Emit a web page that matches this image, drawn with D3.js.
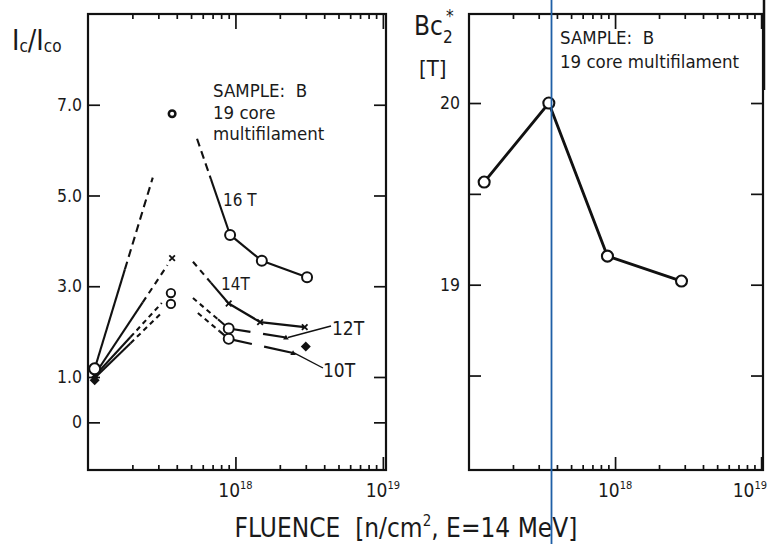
<!DOCTYPE html>
<html><head><meta charset="utf-8">
<script src="https://cdn.jsdelivr.net/npm/d3@7"></script>
<style>
body{margin:0;background:#fff;}
svg{display:block;}
text{font-family:"DejaVu Sans Condensed","Liberation Sans Narrow","DejaVu Sans",sans-serif;fill:#1a1a1a;}
</style></head><body>
<svg id="c" width="768" height="544"></svg>
<script>
// ---------------- data ----------------
const seriesNames = ["16 T", "14T", "12T", "10T"];
const fluence16 = [1.11e17, 3.72e17, 9.2e17, 1.51e18, 3.06e18];
const ratio16   = [1.18, 6.80, 4.13, 3.56, 3.20];
const fluence14 = [1.11e17, 3.72e17, 9.0e17, 1.47e18, 2.95e18];
const ratio14   = [1.05, 3.62, 2.62, 2.21, 2.10];
const fluence12 = [1.11e17, 3.65e17, 9.0e17, 2.2e18];
const ratio12   = [1.02, 2.85, 2.07, 1.87];
const fluence10 = [1.11e17, 3.65e17, 9.0e17, 2.46e18];
const ratio10   = [0.98, 2.61, 1.84, 1.53];
const fluenceFilled = [1.11e17, 3.0e18];
const ratioFilled   = [0.93, 1.67];
// start of the dashed extrapolations after the peak (16T, 14T, 12T, 10T)
const extrapFluence = [5.49e17, 5.15e17, 5.15e17, 5.56e17];
const extrapRatio   = [6.25, 3.54, 2.74, 2.41];
// right panel
const bcFluence = [1.27e17, 3.52e17, 8.87e17, 2.85e18];
const bc2Values = [19.565, 20.0, 19.157, 19.02];
// ticks
const ratioTicks = [0, 1, 3, 5, 7];
const ratioTickLabels = ["0", "1.0", "3.0", "5.0", "7.0"];
const bcTicks = [18.5, 19, 19.5, 20];
const bcTickLabels = ["", "19", "", "20"];
const majorFluence = [1e18, 1e19];
const minorFluence = [2e17,3e17,4e17,5e17,6e17,7e17,8e17,9e17,2e18,3e18,4e18,5e18,6e18,7e18,8e18,9e18];
const decadeExp = ["18", "19"];

// ---------------- setup ----------------
const svg = d3.select("#c");
const INK = "#111";
const W = 768;
const L = {x0: 88, x1: 386, y0: 14, y1: 470};
const R = {x0: 469, x1: 763, y0: 14, y1: 470};

const xL = d3.scaleLog().domain([1e17, 1.05e19]).range([L.x0, L.x1]);
const yL = d3.scaleLinear().domain([-1.05, 9.0]).range([L.y1, L.y0]);
const xR = d3.scaleLog().domain([1e17, 1.03e19]).range([R.x0, R.x1]);
const yR = d3.scaleLinear().domain([17.98, 20.49]).range([R.y1, R.y0]);

function frame(P, x, y, yTickVals, yLabels, tickLen, labelPad) {
  const g = svg.append("g");
  g.append("rect").attr("x", P.x0).attr("y", P.y0).attr("width", P.x1 - P.x0).attr("height", P.y1 - P.y0)
    .attr("fill", "none").attr("stroke", INK).attr("stroke-width", 2.2);
  const clean = s => { s.select(".domain").remove(); s.selectAll("line").attr("stroke", INK).attr("stroke-width", 1.7); };
  g.append("g").attr("transform", `translate(0,${P.y1})`)
    .call(d3.axisBottom(x).tickValues(minorFluence).tickSize(-5).tickFormat("")).call(clean);
  g.append("g").attr("transform", `translate(0,${P.y1})`)
    .call(d3.axisBottom(x).tickValues(majorFluence).tickSize(-13).tickFormat("")).call(clean);
  g.append("g").attr("transform", `translate(0,${P.y0})`)
    .call(d3.axisTop(x).tickValues(minorFluence).tickSize(-5).tickFormat("")).call(clean);
  g.append("g").attr("transform", `translate(0,${P.y0})`)
    .call(d3.axisTop(x).tickValues(majorFluence).tickSize(-15).tickFormat("")).call(clean);
  const ya = g.append("g").attr("transform", `translate(${P.x0},0)`)
    .call(d3.axisLeft(y).tickValues(yTickVals).tickSize(-tickLen).tickPadding(labelPad)
      .tickFormat((d, i) => yLabels[i])).call(clean);
  ya.selectAll("text").attr("font-size", 17.5).attr("fill", "#1a1a1a")
    .style("font-family", '"DejaVu Sans Condensed","Liberation Sans Narrow",sans-serif');
  g.append("g").attr("transform", `translate(${P.x1},0)`)
    .call(d3.axisRight(y).tickValues(yTickVals).tickSize(-tickLen).tickFormat("")).call(clean);
  majorFluence.forEach((f, i) => {
    let xx = x(f), anchor = "middle";
    if (xx + 15 > W) { xx = W - 1; anchor = "end"; }
    const t = g.append("text").attr("x", xx).attr("y", P.y1 + 27).attr("text-anchor", anchor).attr("font-size", 19);
    t.append("tspan").text("10");
    t.append("tspan").attr("font-size", 11).attr("dy", -8).text(decadeExp[i]);
  });
}
frame(L, xL, yL, ratioTicks, ratioTickLabels, 12, 6);
frame(R, xR, yR, bcTicks, bcTickLabels, 12, 9);

// ---------------- left panel lines ----------------
function pt(x, y, f, v) { return [x(f), y(v)]; }
function seg(p0, p1, t0, t1, dash, w) {
  const a = [p0[0] + (p1[0] - p0[0]) * t0, p0[1] + (p1[1] - p0[1]) * t0];
  const b = [p0[0] + (p1[0] - p0[0]) * t1, p0[1] + (p1[1] - p0[1]) * t1];
  svg.append("line").attr("x1", a[0]).attr("y1", a[1]).attr("x2", b[0]).attr("y2", b[1])
    .attr("stroke", INK).attr("stroke-width", w || 2.1).attr("stroke-dasharray", dash || null)
    .attr("stroke-linecap", "butt");
}
const S = [
  {f: fluence16, v: ratio16, pre: [0.39, 0.75], dash: "8,5", post: 0.42, gap: null},
  {f: fluence14, v: ratio14, pre: [0.62, 0.94], dash: "6,5", post: 0.5, gap: null},
  {f: fluence12, v: ratio12, pre: [0.47, 0.88], dash: "5,4", post: 0.7, gap: [0.38, 0.6]},
  {f: fluence10, v: ratio10, pre: [0.47, 0.88], dash: "5,4", post: 0.7, gap: [0.36, 0.55]}
];
S.forEach((s, k) => {
  const P = s.f.map((f, i) => pt(xL, yL, f, s.v[i]));
  seg(P[0], P[1], 0, s.pre[0], null, 2.1);
  seg(P[0], P[1], s.pre[0], s.pre[1], s.dash, 2.1);
  const E = pt(xL, yL, extrapFluence[k], extrapRatio[k]);
  seg(E, P[2], 0, s.post, s.dash, 2.1);
  seg(E, P[2], s.post, 1, null, 2.1);
  for (let i = 2; i < P.length - 1; i++) {
    if (s.gap && i === P.length - 2) {
      seg(P[i], P[i + 1], 0, s.gap[0], null, 2.1);
      seg(P[i], P[i + 1], s.gap[1], 1, null, 2.1);
    } else seg(P[i], P[i + 1], 0, 1, null, 2.2);
  }
});

// markers
function circle(x, y, r, sw) {
  svg.append("circle").attr("cx", x).attr("cy", y).attr("r", r).attr("fill", "#fff")
    .attr("stroke", INK).attr("stroke-width", sw);
}
function cross(x, y, h) {
  svg.append("path").attr("d", `M${x - h},${y - h}L${x + h},${y + h}M${x - h},${y + h}L${x + h},${y - h}`)
    .attr("stroke", INK).attr("stroke-width", 1.8).attr("fill", "none");
}
function diamond(x, y, h) {
  svg.append("path").attr("d", `M${x},${y - h}L${x + h},${y}L${x},${y + h}L${x - h},${y}Z`).attr("fill", INK);
}
function tri(x, y, h) {
  svg.append("path").attr("d", `M${x},${y - h}L${x + h},${y + h * 0.7}L${x - h},${y + h * 0.7}Z`).attr("fill", INK);
}
fluence14.forEach((f, i) => cross(xL(f), yL(ratio14[i]), 2.8));
[[fluence12, ratio12], [fluence10, ratio10]].forEach(([F, V]) => {
  F.forEach((f, i) => {
    if (i === 0) return;
    if (i === F.length - 1) tri(xL(f), yL(V[i]), 2.8);
    else circle(xL(f), yL(V[i]), i === 1 ? 4.2 : 5, 1.9);
  });
});
fluenceFilled.forEach((f, i) => diamond(xL(f), yL(ratioFilled[i]), 5));
fluence16.forEach((f, i) => {
  if (i === 1) circle(xL(f), yL(ratio16[i]), 3.3, 2.5);
  else circle(xL(f), yL(ratio16[i]), i === 0 ? 5.5 : 5, 2);
});

// series labels
function label(txt, x, y, fs) {
  svg.append("text").attr("x", x).attr("y", y).attr("font-size", fs || 17).text(txt);
}
label(seriesNames[0], 223, 206);
label(seriesNames[1], 221, 290);
label(seriesNames[2], 332, 335, 19);
label(seriesNames[3], 323, 377, 19);
svg.append("line").attr("x1", 331).attr("y1", 326).attr("x2", xL(fluence12[3]) + 2).attr("y2", yL(ratio12[3]))
  .attr("stroke", INK).attr("stroke-width", 1.4);
svg.append("line").attr("x1", 323).attr("y1", 368).attr("x2", xL(fluence10[3]) + 1).attr("y2", yL(ratio10[3]))
  .attr("stroke", INK).attr("stroke-width", 1.4);

// sample annotations
const a1 = svg.append("text").attr("font-size", 18.5);
a1.append("tspan").attr("x", 213).attr("y", 97).text("SAMPLE:  B").style("white-space", "pre");
a1.append("tspan").attr("x", 213).attr("y", 119).text("19 core");
a1.append("tspan").attr("x", 213).attr("y", 140).text("multifilament");

// y-axis title left
const yt = svg.append("text").attr("x", 12).attr("y", 50).attr("font-size", 28);
yt.append("tspan").text("I");
yt.append("tspan").attr("font-size", 17).attr("dy", 2).text("c");
yt.append("tspan").attr("font-size", 28).attr("dy", -2).text("/I");
yt.append("tspan").attr("font-size", 17).attr("dy", 2).text("co");

// ---------------- right panel ----------------
const line = d3.line().x(d => xR(d[0])).y(d => yR(d[1]));
svg.append("path").datum(bcFluence.map((f, i) => [f, bc2Values[i]])).attr("d", line)
  .attr("fill", "none").attr("stroke", INK).attr("stroke-width", 2.9);
bcFluence.forEach((f, i) => circle(xR(f), yR(bc2Values[i]), 5.5, 2.1));

const b1 = svg.append("text").attr("font-size", 18.5);
b1.append("tspan").attr("x", 560).attr("y", 44).text("SAMPLE:  B").style("white-space", "pre");
b1.append("tspan").attr("x", 560).attr("y", 68).text("19 core multifilament");

const bt = svg.append("text").attr("x", 414).attr("y", 35).attr("font-size", 26);
bt.append("tspan").text("Bc");
bt.append("tspan").attr("font-size", 17).attr("dy", 8).text("2");
svg.append("text").attr("x", 446).attr("y", 22).attr("font-size", 17).text("*");
svg.append("text").attr("x", 419).attr("y", 76).attr("font-size", 22).text("[T]");

// x title
const xt = svg.append("text").attr("x", 406).attr("y", 537).attr("text-anchor", "middle").attr("font-size", 26);
xt.append("tspan").text("FLUENCE  [n/cm").style("white-space", "pre");
xt.append("tspan").attr("font-size", 15).attr("dy", -11).text("2");
xt.append("tspan").attr("dy", 11).text(", E=14 MeV]");

// scan artefacts: blue vertical rule and dark edge line
svg.append("line").attr("x1", 551.5).attr("x2", 551.5).attr("y1", 0).attr("y2", 544)
  .attr("stroke", "#1f5fa6").attr("stroke-width", 1.8);
svg.append("line").attr("x1", 764).attr("x2", 764).attr("y1", 0).attr("y2", 90)
  .attr("stroke", INK).attr("stroke-width", 2.5);
</script>
</body></html>
